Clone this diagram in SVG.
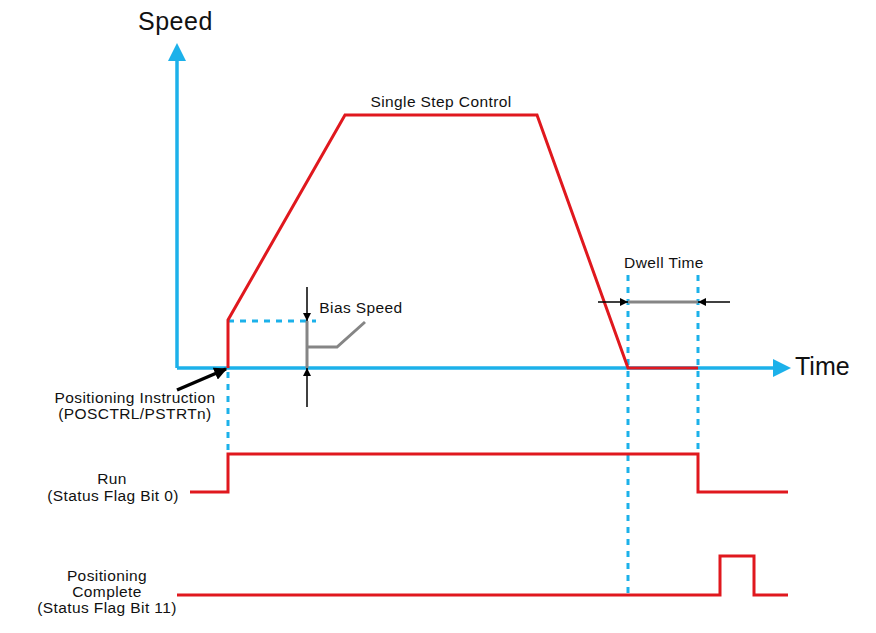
<svg xmlns="http://www.w3.org/2000/svg" width="876" height="633" viewBox="0 0 876 633">
<style>
text{font-family:"Liberation Sans",Arial,sans-serif;fill:#111}
.ax{stroke:#1cb1ea;stroke-width:3.5;fill:none}
.dash{stroke:#1cb1ea;stroke-width:3;stroke-dasharray:6,6;fill:none}
.red{stroke:#e0181e;stroke-width:3;fill:none;stroke-linejoin:miter}
.gray{stroke:#858585;stroke-width:3;fill:none}
.blk{stroke:#000;stroke-width:1.5;fill:none}
.lbl{font-size:15.5px;letter-spacing:0.4px;text-anchor:middle}
.big{font-size:25px}
</style>
<defs>
<marker id="ah" viewBox="0 0 10 10" refX="10" refY="5" markerWidth="8" markerHeight="8" markerUnits="userSpaceOnUse" orient="auto"><path d="M0,0L10,5L0,10z" fill="#000"/></marker>
<marker id="ahb" viewBox="0 0 10 10" refX="9" refY="5" markerWidth="13" markerHeight="13" markerUnits="userSpaceOnUse" orient="auto"><path d="M0,0L10,5L0,10z" fill="#000"/></marker>
</defs>
<g id="axes">
<line class="ax" x1="177" y1="368" x2="177" y2="60"/>
<polygon points="177,43 168,61 186,61" fill="#1cb1ea"/>
<line class="ax" x1="177" y1="368" x2="775" y2="368"/>
<polygon points="791,368 773,359 773,377" fill="#1cb1ea"/>
<text class="big" x="138" y="30" letter-spacing="0.5">Speed</text>
<text class="big" x="795" y="375">Time</text>
</g>
<g id="guides">
<line class="dash" x1="228" y1="321" x2="316" y2="321"/>
<line class="dash" x1="228" y1="372" x2="228" y2="455"/>
<line class="dash" x1="628" y1="275" x2="628" y2="596"/>
<line class="dash" x1="698" y1="275" x2="698" y2="455"/>
</g>
<g id="speed-profile">
<polyline class="red" points="228,368 228,320 345,115 537,115 628,368 698,368"/>
<text class="lbl" x="441" y="107">Single Step Control</text>
</g>
<g id="bias-speed">
<line class="gray" x1="307" y1="321" x2="307" y2="368"/>
<polyline class="gray" points="307,347 337,347 365,322"/>
<line class="blk" x1="307" y1="287" x2="307" y2="321" marker-end="url(#ah)"/>
<line class="blk" x1="307" y1="407" x2="307" y2="368" marker-end="url(#ah)"/>
<text class="lbl" x="361" y="313">Bias Speed</text>
</g>
<g id="dwell-time">
<line class="gray" x1="628" y1="302" x2="698" y2="302"/>
<line class="blk" x1="598" y1="302" x2="628" y2="302" marker-end="url(#ah)"/>
<line class="blk" x1="730" y1="302" x2="698" y2="302" marker-end="url(#ah)"/>
<text class="lbl" x="664" y="268">Dwell Time</text>
</g>
<g id="positioning-instruction">
<line x1="177" y1="390" x2="226" y2="369" stroke="#000" stroke-width="3.5" marker-end="url(#ahb)"/>
<text class="lbl" x="135" y="403">Positioning Instruction</text>
<text class="lbl" x="135" y="419">(POSCTRL/PSTRTn)</text>
</g>
<g id="run">
<polyline class="red" points="190,492 228,492 228,454 698,454 698,492 788,492"/>
<text class="lbl" x="112" y="484">Run</text>
<text class="lbl" x="113" y="501">(Status Flag Bit 0)</text>
</g>
<g id="positioning-complete">
<polyline class="red" points="177,595 720,595 720,556 754,556 754,595 788,595"/>
<text class="lbl" x="107" y="581">Positioning</text>
<text class="lbl" x="107" y="597">Complete</text>
<text class="lbl" x="107" y="613">(Status Flag Bit 11)</text>
</g>
</svg>
